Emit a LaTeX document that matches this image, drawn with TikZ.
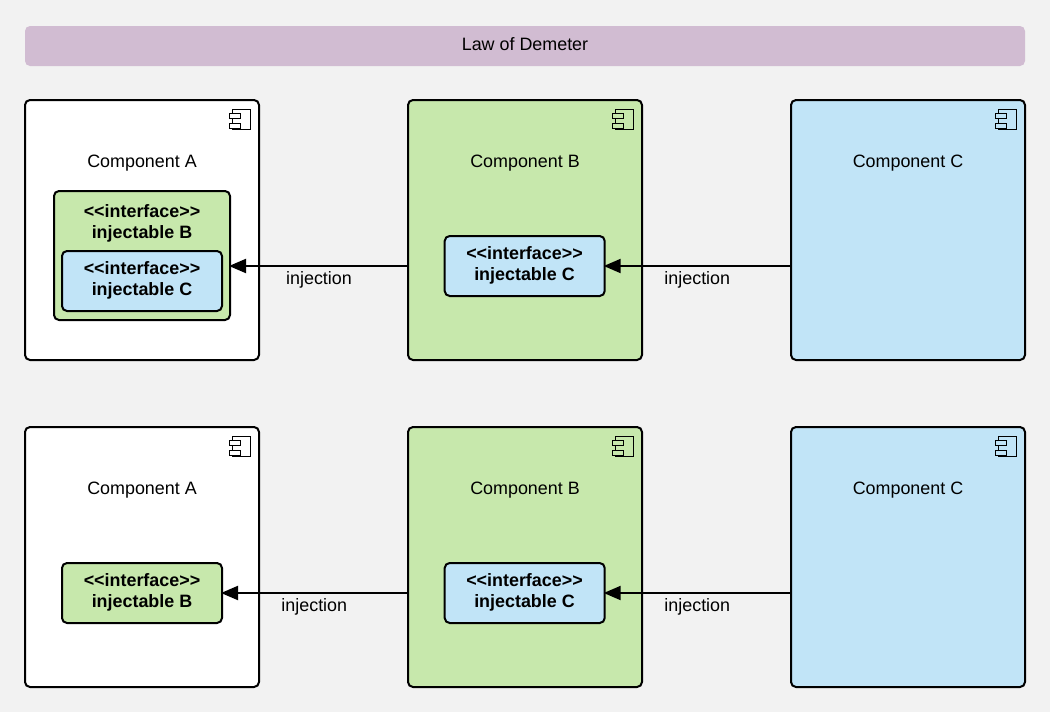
\documentclass[tikz,border=0pt]{standalone}
\usepackage{fontspec}
\setmainfont{Liberation Sans}
\usetikzlibrary{arrows.meta}
\definecolor{bgc}{HTML}{F2F2F2}
\definecolor{titlec}{HTML}{D1BCD2}
\definecolor{greenc}{HTML}{C7E8AC}
\definecolor{bluec}{HTML}{C1E4F7}
\tikzset{
  x=1pt,y=-1pt,
  every node/.style={font=\fontsize{17.9}{21}\selectfont,inner sep=0pt,outer sep=0pt,align=center},
  compbox/.style={draw=black,line width=2pt,rounded corners=5pt,minimum width=234pt,minimum height=260pt},
  ifacebox/.style={draw=black,line width=2pt,rounded corners=5pt,minimum width=160pt,minimum height=60pt},
  ifacetext/.style={font=\fontsize{17.9}{21}\selectfont\bfseries},
  outerface/.style={draw=black,line width=2pt,rounded corners=5pt,minimum width=176pt,minimum height=129pt},
  inject/.style={draw=black,line width=2pt,-{Triangle[length=17pt,width=14pt]},shorten >=-1pt},
  iconline/.style={draw=black,line width=0.8pt,fill=none},
  pics/compicon/.style={code={
    \draw[iconline] (-9,6) -- (-9,2) -- (9,2) -- (9,22) -- (-9,22) -- (-9,21);
    \draw[iconline] (-9,11) -- (-9,16);
    \draw[iconline] (-12,6) rectangle (-1,11);
    \draw[iconline] (-12,16) rectangle (-1,21);
  }}
}
\begin{document}
\begin{tikzpicture}
\useasboundingbox (0,0) rectangle (1050,712);
\fill[bgc] (0,0) rectangle (1050,712);
\node[fill=titlec,rounded corners=5pt,minimum width=1000pt,minimum height=40pt] (title) at (525,46) {};
\node at (525,44.5) {Law of Demeter};

% top row
\node[compbox,fill=white] (a1) at (142,230) {};
\node[compbox,fill=greenc] (b1) at (525,230) {};
\node[compbox,fill=bluec] (c1) at (908,230) {};
\node[outerface,fill=greenc] (ob1) at (142,255.5) {};
\node[ifacetext] (ob1t) at (142,223.5) {<{}<interface>{}>\\injectable B};
\node[ifacebox,fill=bluec] (ic1a) at (142,281) {};
\node[ifacetext] at (142,280) {<{}<interface>{}>\\injectable C};
\node[ifacebox,fill=bluec] (ic1b) at (524.7,266) {};
\node[ifacetext] at (524.5,265) {<{}<interface>{}>\\injectable C};
\node (ta1) at (142,163.5) {Component A};
\node (tb1) at (525,163.5) {Component B};
\node (tc1) at (908,163.5) {Component C};
\draw[inject] (b1.west |- ic1b.east) -- (ob1.east |- ic1b.east);
\draw[inject] (c1.west |- ic1b.east) -- (ic1b.east);
\node (l1) at (319,280) {injection};
\node (l2) at (697.3,280) {injection};

% bottom row
\node[compbox,fill=white] (a2) at (142,557) {};
\node[compbox,fill=greenc] (b2) at (525,557) {};
\node[compbox,fill=bluec] (c2) at (908,557) {};
\node[ifacebox,fill=greenc] (ib2) at (142,593) {};
\node[ifacetext] at (142,592) {<{}<interface>{}>\\injectable B};
\node[ifacebox,fill=bluec] (ic2) at (524.7,593) {};
\node[ifacetext] at (524.5,592) {<{}<interface>{}>\\injectable C};
\node (ta2) at (142,490.5) {Component A};
\node (tb2) at (525,490.5) {Component B};
\node (tc2) at (908,490.5) {Component C};
\draw[inject] (b2.west |- ic2.east) -- (ib2.east);
\draw[inject] (c2.west |- ic2.east) -- (ic2.east);
\node (l3) at (314.3,607) {injection};
\node (l4) at (697.3,607) {injection};

% component icons
\foreach \cx in {241,624,1007}{
  \pic at (\cx,107) {compicon};
  \pic at (\cx,434) {compicon};
}
\end{tikzpicture}
\end{document}
